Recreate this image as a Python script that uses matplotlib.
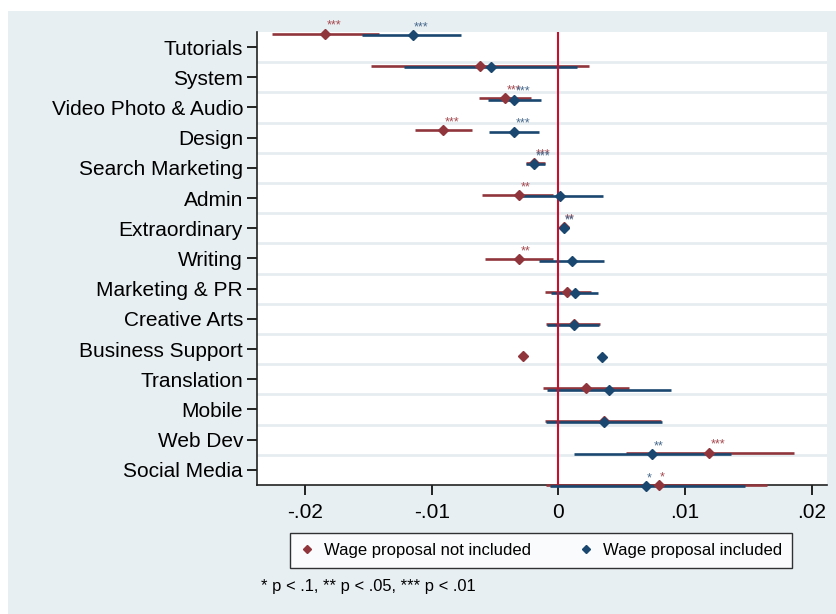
import numpy as np
import matplotlib
matplotlib.use("Agg")
import matplotlib.pyplot as plt
from matplotlib.lines import Line2D
from matplotlib.patches import Rectangle

plt.rcParams['font.family'] = ['Liberation Sans', 'DejaVu Sans']

# categories, top to bottom
categories = ["Tutorials", "System", "Video Photo & Audio", "Design", "Search Marketing",
              "Admin", "Extraordinary", "Writing", "Marketing & PR", "Creative Arts",
              "Business Support", "Translation", "Mobile", "Web Dev", "Social Media"]

# wage proposal not included (red)
red_coef = [-0.0184, -0.0062, -0.0042, -0.0091, -0.0019, -0.0031, 0.0004, -0.0031,
            0.0007, 0.0012, -0.0028, 0.0022, 0.0036, 0.0119, 0.0079]
red_lo = [-0.0226, -0.0148, -0.0063, -0.0113, -0.0026, -0.0060, np.nan, -0.0058,
          -0.0011, -0.0010, np.nan, -0.0012, -0.0011, 0.0053, -0.0010]
red_hi = [-0.0142, 0.0024, -0.0022, -0.0068, -0.0011, -0.0004, np.nan, -0.0004,
          0.0026, 0.0033, np.nan, 0.0056, 0.0081, 0.0186, 0.0165]
red_stars = ["***", "", "***", "***", "***", "**", "**", "**", "", "", "", "", "", "***", "*"]

# wage proposal included (blue)
blue_coef = [-0.0115, -0.0053, -0.0035, -0.0035, -0.0019, 0.0001, 0.0004, 0.0011,
             0.0013, 0.0012, 0.0034, 0.0040, 0.0036, 0.0074, 0.0069]
blue_lo = [-0.0155, -0.0122, -0.0056, -0.0055, -0.0026, -0.0029, np.nan, -0.0015,
           -0.0006, -0.0009, np.nan, -0.0009, -0.0010, 0.0012, -0.0007]
blue_hi = [-0.0077, 0.0015, -0.0014, -0.0015, -0.0011, 0.0035, np.nan, 0.0036,
           0.0031, 0.0032, np.nan, 0.0089, 0.0082, 0.0136, 0.0147]
blue_stars = ["***", "", "***", "***", "***", "", "**", "", "", "", "", "", "", "**", "*"]

xticks = [-0.02, -0.01, 0, 0.01, 0.02]
xticklabels = ["-.02", "-.01", "0", ".01", ".02"]

bg = "#e8eff2"
red = "#90353b"
blue = "#1a476f"

fig = plt.figure(figsize=(8.36, 6.14), dpi=100, facecolor="white")
fig.patches.append(Rectangle((8 / 836, 0), 1, 1 - 11 / 614, transform=fig.transFigure,
                             facecolor=bg, edgecolor="none", zorder=-10))

ax = fig.add_axes([0.3074, 0.2101, 0.6818, 0.7378])
ax.set_facecolor("white")
n = len(categories)
ax.set_ylim(n - 0.5, -0.5)
ax.set_yticks(range(n))
ax.set_yticklabels(categories, fontsize=15)
ax.set_yticks(np.arange(0.5, n - 1, 1), minor=True)
ax.tick_params(axis="y", which="minor", length=0)
ax.grid(axis="y", which="minor", color="#e6edf0", linewidth=2)
ax.tick_params(axis="y", which="major", length=7, width=1.2, pad=3)
ax.set_xlim(-0.0238, 0.0212)
ax.set_xticks(xticks)
ax.set_xticklabels(xticklabels, fontsize=15)
ax.tick_params(axis="x", length=7, width=1.2, pad=6)
for s in ["top", "right"]:
    ax.spines[s].set_visible(False)
for s in ["left", "bottom"]:
    ax.spines[s].set_linewidth(1.2)
    ax.spines[s].set_color("#222222")

# coefficients sit on their own row scale
ax2 = ax.twinx()
ax2.set_ylim(14.0, -0.055)
ax2.set_yticks([])
for s in ax2.spines.values():
    s.set_visible(False)

rows = np.arange(n)
ax2.hlines(rows, red_lo, red_hi, color=red, lw=1.9, zorder=2, clip_on=False)
ax2.hlines(rows + 0.04, blue_lo, blue_hi, color=blue, lw=1.9, zorder=2.1, clip_on=False)
ax2.axvline(0, color="#c8102e", lw=1.5, zorder=2.5)
ax2.plot(red_coef, rows, "D", color=red, ms=5.3, zorder=3, clip_on=False)
ax2.plot(blue_coef, rows + 0.04, "D", color=blue, ms=5.3, zorder=3.1, clip_on=False)

for i in range(n):
    if red_stars[i]:
        ax2.annotate(red_stars[i], (red_coef[i], i), xytext=(1, 3.5), textcoords="offset points",
                     ha="left", va="baseline", fontsize=9, color="#a64a50", annotation_clip=False)
    if blue_stars[i]:
        ax2.annotate(blue_stars[i], (blue_coef[i], i + 0.04), xytext=(1, 3.5), textcoords="offset points",
                     ha="left", va="baseline", fontsize=9, color="#46698c", annotation_clip=False)

handles = [Line2D([], [], marker="D", ls="none", color=red, ms=4.5),
           Line2D([], [], marker="D", ls="none", color=blue, ms=4.5)]
leg = fig.legend(handles, ["Wage proposal not included", "Wage proposal included"],
                 loc="center", bbox_to_anchor=(541 / 836, 1 - 550.5 / 614), ncol=2,
                 fontsize=12, frameon=True, fancybox=False, edgecolor="black",
                 borderpad=0.6, handlelength=0.8, handletextpad=0.62, columnspacing=2.9)
leg.get_frame().set_linewidth(1.0)
leg.get_frame().set_facecolor("white")

fig.text(261 / 836, 1 - 587 / 614, "* p < .1, ** p < .05, *** p < .01",
         fontsize=11.9, ha="left", va="center")

fig.savefig("out.png", dpi=100, facecolor=fig.get_facecolor())
